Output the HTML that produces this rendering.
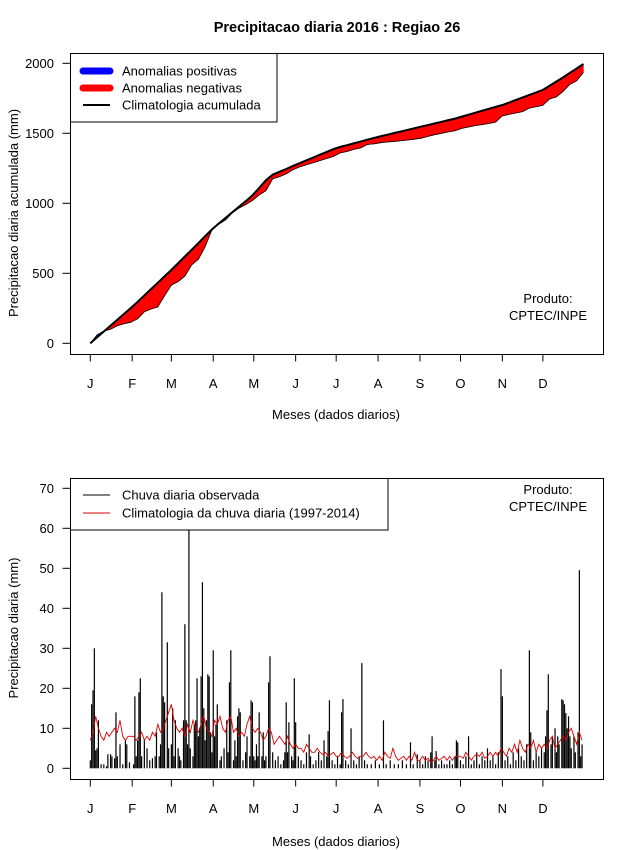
<!DOCTYPE html>
<html><head><meta charset="utf-8"><style>
html,body{margin:0;padding:0;background:#fff}
svg{display:block;font-family:"Liberation Sans",sans-serif}
</style></head><body>
<svg id="c" width="640" height="850" viewBox="0 0 640 850" xmlns="http://www.w3.org/2000/svg">
<rect width="640" height="850" fill="#fff"/>
<text x="337" y="32" text-anchor="middle" font-size="14.5" font-weight="bold">Precipitacao diaria 2016 : Regiao 26</text>
<g id="top"></g>
<g id="bot"></g>
</svg>
<script>
const monthLabels=["J","F","M","A","M","J","J","A","S","O","N","D"];
const monthStartDays=[1,32,61,92,122,153,183,214,245,275,306,336];
const topTicks=[0,500,1000,1500,2000];
const botTicks=[0,10,20,30,40,50,60,70];
const cumDays=[1,6,11,16,21,26,31,36,41,46,51,56,61,66,71,76,81,86,91,96,101,106,111,116,121,126,131,136,141,146,151,156,161,166,171,176,181,186,191,196,201,206,211,216,221,226,231,236,241,246,251,256,261,266,271,276,281,286,291,296,301,306,311,316,321,326,331,336,341,346,351,356,361,366];
const climCum=[0,42,84,126,168,210,252,296,342,388,433,479,524,572,620,668,716,765,813,855,895,935,975,1015,1057,1110,1165,1205,1225,1245,1267,1287,1307,1327,1347,1367,1387,1403,1415,1428,1441,1454,1467,1479,1490,1502,1513,1525,1536,1548,1559,1571,1582,1594,1605,1619,1633,1647,1661,1675,1689,1702,1720,1738,1756,1774,1792,1810,1840,1870,1900,1932,1963,1995];
const obsCum=[0,60,88,100,125,140,150,175,225,245,260,340,415,440,480,560,600,690,810,850,880,930,965,990,1020,1060,1090,1175,1190,1210,1240,1260,1275,1290,1305,1320,1335,1360,1370,1385,1395,1420,1425,1433,1438,1442,1447,1452,1458,1465,1478,1490,1500,1510,1518,1535,1545,1555,1562,1570,1580,1625,1635,1645,1655,1680,1690,1700,1745,1760,1800,1850,1875,1935];
const obsDays=[1,2,3,4,5,6,7,9,11,13,14,16,17,19,20,21,23,25,27,28,30,
33,34,35,36,37,38,39,41,43,45,47,49,50,52,53,54,55,56,58,59,
61,62,63,64,66,67,68,70,71,72,73,74,75,77,78,79,80,81,82,83,84,85,86,87,88,89,90,91,
92,93,94,95,97,98,100,102,103,104,105,107,108,109,110,111,112,114,116,117,119,120,121,
122,123,124,125,126,128,129,130,131,133,134,136,138,140,142,144,145,146,147,148,150,151,
152,153,155,157,159,161,163,164,166,168,170,172,174,176,177,178,180,
182,184,186,187,188,190,192,194,196,198,200,202,204,206,209,212,
215,218,220,223,226,229,232,235,238,240,243,
245,247,249,251,253,254,256,257,259,261,263,265,267,269,271,272,273,
275,277,279,281,283,285,287,289,291,293,295,297,299,301,303,305,306,
308,310,312,314,316,318,320,322,324,326,327,329,331,333,335,
337,338,339,340,342,343,345,346,347,348,350,351,352,353,354,355,356,357,359,360,362,363,364,365];
const obsMm=[2,16,19.5,30,4.5,5,12,1,1,0.5,3.5,3.5,3,2.5,14,3,6,1,7,6,1.5,
1,18,3,7,19,22.5,3,7,5,2,2.5,3,9,3,6,44,18,16.5,31.5,5,
6,15,3,12,5,3,2,12,36,12,6,62,5,3,11,12,22.5,8,10,23,46.5,15,7,12,23.5,23,9,4,
29.5,8,11,16,2,3,5,12,4,21.5,29.5,2,7,3,13,15,14,2,4,8,3,17,16.5,
3,2,6,3,14,3,9,2,3,21.5,28,4,2,3,1,2,4,16.5,4,11.5,3,2,
22.5,11.5,3,2,1,4,8.5,3,1,2,4,2,7,3,9.3,17,2,
1,3,1,14,17.3,2,1,10,2,1,3,26.3,2,1,1,2,
1,12,1,2,1,1,2,1,6.5,1,3.5,
2,1,3,2,4,8,2,4.3,1,2,1,1,2,1,3,7,6.5,
2,1,3,8,1,2,4,1,3,2,5,2,3,1,4,24.8,18,
2,3,1,4,2,5,3,2,6,29.5,9,2,4,3,5,
4,8,14.5,23.5,6,8,10,4,8,6,17.3,17,16,13.8,10,13,8,5,8,4,9,49.5,3,6];
const climDays=[];for(let d=1;d<=365;d+=2)climDays.push(d);
const climMm=[7,9,13,10,8,7,9,8,9,10,9,12,8,7,8,8,
8,7,8,9,7,8,7,9,8,11,9,10,12,14,
16,12,10,9,10,8,11,9,12,10,9,11,13,10,9,8,
12,11,13,10,9,12,13,9,10,8,9,8,11,13,10,
9,10,9,7,8,10,9,6,7,8,7,6,8,6,5,
6,5,5,4,6,5,4,4,5,4,3.5,4,3,3.5,4,
3,3,4,3,2.5,3,4,3,2.5,3,3,4,3,2.5,3,2,
3,2,4,3,2.5,5,3,2,2.5,3,2,3,2,4,2,
2,3,2,2.5,1.5,2,3,2,2.5,3,2,3,2,3,3,
3,2.5,4,3,2,3,3.5,3,4,2.5,3,4,3,4,3,5,
4,3,5,4,6,4,7,5,4,6,5,7,4,6,5,
6,5,7,8,5,6,7,8,7,9,10,8,6,9,7];

const NS="http://www.w3.org/2000/svg";
function mk(p,t,a){const e=document.createElementNS(NS,t);for(const k in a)e.setAttribute(k,a[k]);p.appendChild(e);return e;}
const xDay=d=>90.3+(d-1)*1.351;
const yTop=v=>343.3-v*0.14;
const yBot=v=>768.3-v*4;

function axes(g,box,ticks,yf,tickY,labY,ylab,ylabY,xlabY){
  let e;
  for(let i=0;i<monthLabels.length;i++){
    const x=xDay(monthStartDays[i]);
    e=mk(g,'line',{x1:x,x2:x,y1:box.b,y2:box.b+7,stroke:'#000'});
    
    
    e=mk(g,'text',{x:x,y:labY,'text-anchor':'middle','font-size':13});e.textContent=monthLabels[i];
    
    
  }
  for(const t of ticks){
    const y=yf(t);
    e=mk(g,'line',{x1:box.l-8,x2:box.l,y1:y,y2:y,stroke:'#000'});
    
    
    e=mk(g,'text',{x:54,y:y+4.5,'text-anchor':'end','font-size':13});e.textContent=t;
    
    
  }
  e=mk(g,'text',{x:18,y:ylabY,'text-anchor':'middle','font-size':13,transform:`rotate(-90 18 ${ylabY})`});e.textContent=ylab;
  
  
  e=mk(g,'text',{x:336,y:xlabY,'text-anchor':'middle','font-size':13});e.textContent='Meses (dados diarios)';
  
  
}

// TOP
const T=document.getElementById('top');
const tb={l:70.5,r:603.5,t:53.5,b:354.5};
for(let i=0;i<cumDays.length-1;i++){
  const x1=xDay(cumDays[i]),x2=xDay(cumDays[i+1]);
  const pos=(obsCum[i]+obsCum[i+1])>(climCum[i]+climCum[i+1]);
  const q=mk(T,'polygon',{points:`${x1},${yTop(climCum[i])} ${x2},${yTop(climCum[i+1])} ${x2},${yTop(obsCum[i+1])} ${x1},${yTop(obsCum[i])}`,fill:pos?'#0000ff':'#ff0000',stroke:pos?'#0000ff':'#ff0000','stroke-width':0.5});
  
  
}
let e=mk(T,'polyline',{points:cumDays.map((d,i)=>xDay(d)+','+yTop(obsCum[i])).join(' '),fill:'none',stroke:'#000','stroke-width':0.8});


e=mk(T,'polyline',{points:cumDays.map((d,i)=>xDay(d)+','+yTop(climCum[i])).join(' '),fill:'none',stroke:'#000','stroke-width':2});


e=mk(T,'rect',{x:tb.l,y:tb.t,width:tb.r-tb.l,height:tb.b-tb.t,fill:'none',stroke:'#000'});


axes(T,tb,topTicks,yTop,0,388,'Precipitacao diaria acumulada (mm)',213,419);
const lg=mk(T,'g',{});


mk(lg,'rect',{x:70.5,y:53.5,width:206.5,height:68.5,fill:'#fff',stroke:'#000'});
const leg=[['Anomalias positivas','#0000ff',7,71],['Anomalias negativas','#ff0000',7,88],['Climatologia acumulada','#000',2,105]];
for(const [t,c,w,y] of leg){
  const g=mk(lg,'g',{});
  
  
  mk(g,'line',{x1:83,x2:110,y1:y,y2:y,stroke:c,'stroke-width':w,'stroke-linecap':w>3?'round':'butt'});
  const tx=mk(g,'text',{x:122,y:y+4.5,'font-size':13});tx.textContent=t;
}
e=mk(T,'text',{x:548,y:303,'text-anchor':'middle','font-size':13});e.textContent='Produto:';


e=mk(T,'text',{x:548,y:320,'text-anchor':'middle','font-size':13});e.textContent='CPTEC/INPE';



// BOTTOM
const B=document.getElementById('bot');
const bb={l:70.5,r:603.5,t:478.5,b:779.5};
for(let i=0;i<obsDays.length;i++){
  const x=xDay(obsDays[i]);
  const b=mk(B,'line',{x1:x,x2:x,y1:yBot(0),y2:yBot(obsMm[i]),stroke:'#000','stroke-width':1.2});
  
  
}
e=mk(B,'polyline',{points:climDays.map((d,i)=>xDay(d)+','+yBot(climMm[i])).join(' '),fill:'none',stroke:'#dd0000','stroke-width':0.9});


e=mk(B,'rect',{x:bb.l,y:bb.t,width:bb.r-bb.l,height:bb.b-bb.t,fill:'none',stroke:'#000'});


axes(B,bb,botTicks,yBot,0,813,'Precipitacao diaria (mm)',628,846);
const lg2=mk(B,'g',{});


mk(lg2,'rect',{x:70.5,y:478.5,width:317.5,height:51.5,fill:'#fff',stroke:'#000'});
const leg2=[['Chuva diaria observada','#000',495],['Climatologia da chuva diaria (1997-2014)','#dd0000',513]];
for(const [t,c,y] of leg2){
  const g=mk(lg2,'g',{});
  
  
  mk(g,'line',{x1:83,x2:110,y1:y,y2:y,stroke:c,'stroke-width':1});
  const tx=mk(g,'text',{x:122,y:y+4.5,'font-size':13});tx.textContent=t;
}
e=mk(B,'text',{x:548,y:494,'text-anchor':'middle','font-size':13});e.textContent='Produto:';


e=mk(B,'text',{x:548,y:511,'text-anchor':'middle','font-size':13});e.textContent='CPTEC/INPE';


</script>
</body></html>
